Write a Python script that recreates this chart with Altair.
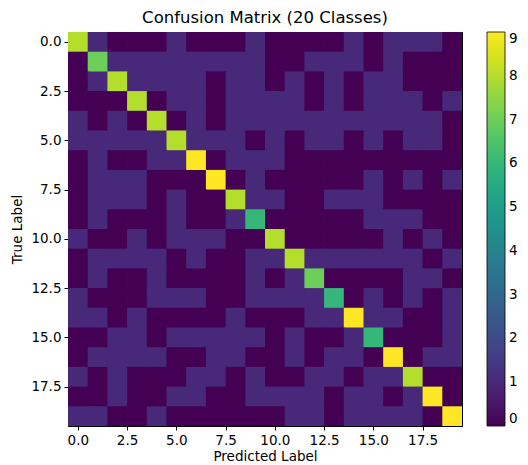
import altair as alt
import pandas as pd

classes = list(range(20))

row_00 = [8, 1, 0, 0, 0, 1, 0, 0, 0, 1, 0, 0, 0, 0, 1, 0, 1, 1, 1, 0]
row_01 = [0, 7, 1, 1, 1, 1, 1, 1, 1, 1, 0, 0, 1, 1, 1, 0, 1, 0, 0, 0]
row_02 = [0, 1, 8, 1, 1, 1, 1, 0, 1, 1, 0, 1, 0, 1, 0, 1, 1, 0, 0, 0]
row_03 = [0, 0, 0, 8, 0, 1, 1, 0, 1, 1, 1, 1, 0, 1, 0, 1, 1, 1, 0, 1]
row_04 = [1, 0, 1, 0, 8, 0, 1, 0, 1, 1, 1, 1, 1, 1, 1, 1, 1, 1, 1, 0]
row_05 = [1, 1, 1, 1, 1, 8, 1, 1, 1, 0, 1, 0, 1, 1, 0, 1, 0, 1, 1, 0]
row_06 = [0, 1, 0, 0, 1, 1, 9, 0, 1, 1, 1, 0, 0, 0, 0, 0, 0, 0, 0, 0]
row_07 = [0, 1, 1, 1, 0, 0, 0, 9, 0, 1, 0, 0, 0, 0, 0, 1, 0, 1, 0, 1]
row_08 = [0, 1, 1, 1, 0, 1, 0, 0, 8, 1, 1, 0, 0, 1, 1, 1, 0, 0, 0, 0]
row_09 = [0, 1, 0, 0, 0, 1, 0, 0, 1, 6, 0, 0, 0, 0, 0, 1, 1, 1, 0, 0]
row_10 = [1, 0, 0, 1, 0, 1, 1, 1, 0, 0, 8, 0, 0, 0, 0, 0, 1, 0, 1, 0]
row_11 = [0, 1, 1, 1, 1, 0, 1, 0, 0, 1, 1, 8, 1, 1, 1, 1, 1, 1, 0, 1]
row_12 = [0, 1, 0, 0, 1, 0, 0, 0, 0, 1, 0, 1, 7, 0, 0, 0, 0, 1, 1, 0]
row_13 = [1, 0, 0, 0, 1, 1, 1, 0, 0, 1, 1, 1, 1, 6, 0, 1, 0, 1, 0, 1]
row_14 = [1, 1, 0, 1, 0, 0, 0, 0, 1, 0, 0, 0, 1, 1, 9, 1, 1, 0, 0, 1]
row_15 = [0, 0, 1, 1, 0, 1, 1, 1, 1, 1, 0, 1, 0, 0, 1, 6, 0, 0, 0, 1]
row_16 = [0, 1, 1, 1, 1, 0, 0, 1, 1, 0, 0, 1, 0, 1, 1, 0, 9, 0, 1, 1]
row_17 = [1, 0, 1, 0, 0, 0, 1, 1, 0, 1, 0, 0, 1, 1, 0, 1, 1, 8, 0, 0]
row_18 = [0, 0, 1, 0, 0, 1, 1, 0, 0, 1, 1, 1, 1, 0, 1, 1, 0, 1, 9, 0]
row_19 = [1, 1, 0, 0, 1, 0, 0, 0, 0, 0, 0, 1, 1, 0, 1, 1, 1, 1, 0, 9]

matrix = [row_00, row_01, row_02, row_03, row_04, row_05, row_06, row_07,
          row_08, row_09, row_10, row_11, row_12, row_13, row_14, row_15,
          row_16, row_17, row_18, row_19]

axis_ticks = [0.0, 2.5, 5.0, 7.5, 10.0, 12.5, 15.0, 17.5]
colorbar_ticks = [0, 1, 2, 3, 4, 5, 6, 7, 8, 9]

records = [{"true": t, "pred": p, "count": matrix[t][p]} for t in classes for p in classes]
df = pd.DataFrame(records)

FONT = "DejaVu Sans"
common_axis = dict(format=".1f", grid=False, tickSize=4, tickColor="black",
                   domainColor="black", labelColor="black", titleColor="black",
                   labelFontSize=13.5, titleFontSize=13.5, titleFontWeight="normal",
                   labelFont=FONT, titleFont=FONT, labelPadding=3)

# cells span [i-0.5, i+0.5]; the far edge is nudged slightly so that
# neighbouring cells overlap and no anti-aliasing seam shows between them
chart = alt.Chart(df).transform_calculate(
    x0="datum.pred - 0.5",
    x1="datum.pred + 0.54",
    y0="datum.true - 0.5",
    y1="datum.true + 0.54",
).mark_rect(strokeWidth=0, clip=True).encode(
    x=alt.X("x0:Q",
            scale=alt.Scale(domain=[-0.5, 19.5], nice=False, zero=False),
            axis=alt.Axis(values=axis_ticks, title="Predicted Label",
                          titlePadding=3, **common_axis)),
    x2="x1:Q",
    y=alt.Y("y0:Q",
            scale=alt.Scale(domain=[-0.5, 19.5], nice=False, zero=False, reverse=True),
            axis=alt.Axis(values=axis_ticks, title="True Label",
                          titlePadding=6, **common_axis)),
    y2="y1:Q",
    color=alt.Color("count:Q",
                    scale=alt.Scale(scheme="viridis", domain=[0, 9]),
                    legend=alt.Legend(type="gradient", title=None, values=colorbar_ticks,
                                      gradientLength=394, gradientThickness=18,
                                      gradientStrokeColor="black", gradientStrokeWidth=0.8,
                                      labelFontSize=13.5, labelFont=FONT, labelColor="black",
                                      offset=25, padding=0, labelOffset=4)),
).properties(
    width=394,
    height=394,
    title=alt.TitleParams("Confusion Matrix (20 Classes)", fontSize=16.5, font=FONT,
                          fontWeight="normal", color="black", offset=6),
).configure_view(
    stroke="black", strokeWidth=1
).properties(padding={"left": 2, "top": 1, "right": 0, "bottom": 0})

chart.save("out.html", embed_options={"renderer": "svg", "actions": False})
